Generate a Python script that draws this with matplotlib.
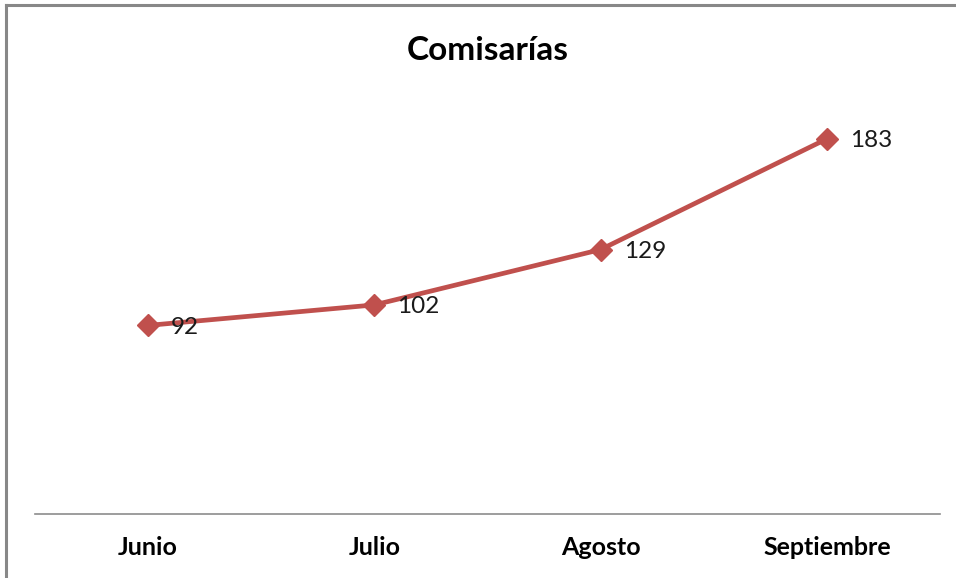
import matplotlib.pyplot as plt
from matplotlib.lines import Line2D

# data
months = ["Junio", "Julio", "Agosto", "Septiembre"]
values = [92, 102, 129, 183]

plt.rcParams['font.family'] = ['Lato', 'DejaVu Sans']

W, H = 956, 578
fig = plt.figure(figsize=(W / 100, H / 100), dpi=100)
ax = fig.add_axes([35 / W, (H - 514) / H, (940 - 35) / W, 410 / H])

red = "#C0504D"
x = list(range(len(months)))
ax.plot(x, values, color=red, lw=3.4, marker="D", markersize=11.5, zorder=3)

for xi, v in zip(x, values):
    ax.annotate(str(v), (xi, v), xytext=(23, -2), textcoords="offset pixels",
                ha="left", va="center", fontsize=17.5, color="#1a1a1a")

ax.set_xlim(-0.5, 3.5)
ax.set_ylim(0, 200)
ax.set_xticks(x)
ax.set_xticklabels(months, fontsize=18, fontweight="bold")
ax.tick_params(axis="x", length=0, pad=16)
ax.set_yticks([])
for s in ["top", "right", "left"]:
    ax.spines[s].set_visible(False)
ax.spines["bottom"].set_color("#8c8c8c")
ax.spines["bottom"].set_linewidth(1.2)

fig.text(488 / W, 1 - 50 / H, "Comisarías", ha="center", va="center",
         fontsize=24, fontweight="bold")

# outer frame (only top and left edges visible)
fig.add_artist(Line2D([6 / W, 6 / W], [0, 1 - 5 / H], transform=fig.transFigure,
                      color="#888888", lw=2.2))
fig.add_artist(Line2D([6 / W, 1], [1 - 5 / H, 1 - 5 / H], transform=fig.transFigure,
                      color="#888888", lw=2.2))

fig.savefig("out.png", dpi=100)
